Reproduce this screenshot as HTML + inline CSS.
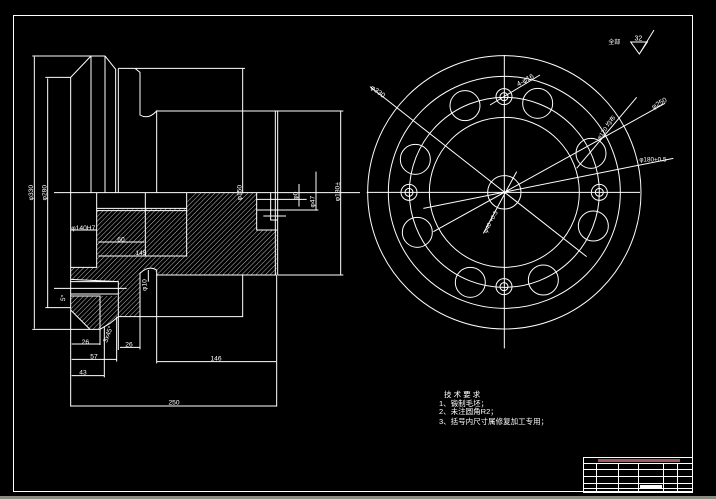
<!DOCTYPE html>
<html><head><meta charset="utf-8"><style>
html,body{margin:0;padding:0;background:#000;width:716px;height:499px;overflow:hidden}
svg{display:block}
text{font-family:"Liberation Sans","Noto Sans CJK SC",sans-serif;fill:#fff}
</style></head><body>
<svg width="716" height="499" viewBox="0 0 716 499" xmlns="http://www.w3.org/2000/svg">
<defs>
<pattern id="h" patternUnits="userSpaceOnUse" width="10" height="10" patternTransform="rotate(45)">
<line x1="0" y1="0" x2="0" y2="10" stroke="#fff" stroke-width="2.2"/>
</pattern>
</defs>
<rect x="0" y="496" width="716" height="3" fill="#8a8a80"/>
<rect x="13.5" y="15.5" width="679" height="476" fill="none" stroke="#fff" stroke-width="1"/>

<!-- Section view, zoom coords -->
<g transform="translate(0,40) scale(0.33333)" stroke="#fff" stroke-width="3" fill="none">
<path fill="url(#h)" stroke="none" d="M290,510 L560,505 L560,490 L575,458 L770,458 L770,570 L830,570 L830,705 L470,705 L465,688 L445,682 L425,690 L420,700 L420,830 L355,830 L355,725 L212,718 L212,682 L290,682 Z"/>
<path fill="url(#h)" stroke="none" d="M212,768 L300,768 L300,868 L270,868 L212,810 Z"/>
<path fill="url(#h)" stroke="none" d="M300,768 L355,768 L355,830 L330,850 L300,868 Z"/>
<!-- upper outer profile -->
<path d="M97,48 L315,48 M273,48 L212,112 L136,112 M212,112 L212,1100 M273,48 L273,458 M315,48 L315,458 M315,48 L347,88 L347,458 M355,85 L355,458 M355,85 L735,85 M405,85 L420,97 L420,225 Q445,240 470,213 L470,458 M470,213 L1030,213 M728,85 L728,458 M826,213 L826,705 M833,213 L833,705"/>
<path d="M162,458 L1080,458"/>
<!-- section inner lines -->
<path d="M290,458 L290,682 L212,682 M290,505 L560,505 M290,512 L560,512 M436,458 L436,650 M560,458 L560,650 M212,570 L290,570 M770,458 L770,570 L830,570 M812,458 L812,540 L832,540 M770,478 L920,478 M770,510 L955,510 M790,528 L858,528"/>
<path d="M212,718 L355,725 M212,725 L355,725 L355,830 L420,830 L420,700 Q445,675 470,690 L470,705 L830,705 M212,762 L355,762 M212,768 L300,768 L300,868 L270,868 L212,810 M162,745 L380,745 M97,868 L300,868 M136,803 L212,803 M728,705 L728,830 L410,830 M300,868 L330,850 L355,830"/>
<!-- dims -->
<path d="M103,50 L103,866 M143,115 L143,803 M1022,213 L1022,705 M833,705 L1030,705 M897,432 L897,500 M948,395 L948,512"/>
<path d="M295,606 L433,606 M295,648 L560,648"/>
<path d="M215,912 L300,912 M215,958 L350,958 M215,1007 L313,1007 M360,922 L420,922 M470,965 L828,965 M212,1098 L830,1098"/>
<path d="M300,868 L300,915 M313,860 L313,1012 M350,830 L350,965 M355,830 L355,930 M420,830 L420,928 M470,705 L470,970 M830,705 L830,1100"/>
<path d="M445,690 L445,725"/>
<g stroke="none" font-size="20">
<text x="256" y="912" text-anchor="middle">26</text>
<text x="282" y="956" text-anchor="middle">57</text>
<text x="249" y="1003" text-anchor="middle">43</text>
<text x="387" y="920" text-anchor="middle">26</text>
<text x="648" y="962" text-anchor="middle">146</text>
<text x="522" y="1094" text-anchor="middle">250</text>
<text x="363" y="605" text-anchor="middle">60</text>
<text x="423" y="645" text-anchor="middle">145</text>
<text x="250" y="570" text-anchor="middle">φ140H7</text>
<text transform="translate(99,458) rotate(-90)" text-anchor="middle">φ330</text>
<text transform="translate(139,458) rotate(-90)" text-anchor="middle">φ280</text>
<text transform="translate(1018,455) rotate(-90)" text-anchor="middle">φ180±</text>
<text transform="translate(724,458) rotate(-90)" text-anchor="middle">φ150</text>
<text transform="translate(893,467) rotate(-90)" text-anchor="middle">φ0</text>
<text transform="translate(944,485) rotate(-90)" text-anchor="middle">φ47</text>
<text transform="translate(440,735) rotate(-90)" text-anchor="middle">φ10</text>
<text transform="translate(330,885) rotate(-70)" text-anchor="middle">3x45°</text>
<text transform="translate(196,775) rotate(-80)" text-anchor="middle">5°</text>
</g>
</g>

<!-- Circle view, zoom coords -->
<g transform="translate(360,20) scale(0.33333)" stroke="#fff" stroke-width="3" fill="none">
<circle cx="433" cy="517" r="410"/>
<circle cx="433" cy="517" r="348"/>
<circle cx="433" cy="517" r="285"/>
<circle cx="433" cy="517" r="225"/>
<circle cx="433" cy="517" r="50"/>
<circle cx="315" cy="257" r="45"/><circle cx="533" cy="250" r="45"/>
<circle cx="166" cy="418" r="45"/><circle cx="693" cy="400" r="45"/>
<circle cx="172" cy="637" r="45"/><circle cx="700" cy="618" r="45"/>
<circle cx="331" cy="787" r="45"/><circle cx="550" cy="780" r="45"/>
<circle cx="432" cy="230" r="24"/><circle cx="432" cy="230" r="12"/>
<circle cx="147" cy="517" r="24"/><circle cx="147" cy="517" r="12"/>
<circle cx="718" cy="517" r="24"/><circle cx="718" cy="517" r="12"/>
<circle cx="432" cy="800" r="24"/><circle cx="432" cy="800" r="12"/>
<path d="M20,517 L840,517 M433,105 L433,985 M30,200 L680,710 M220,635 L915,250 M190,565 L940,415 M540,165 L390,255 M830,232 L650,445 M370,640 L470,455"/>
<path d="M812,66 L862,66 L838,102 Z M838,102 L882,30"/>
<g stroke="none" font-size="21">
<text x="745" y="72" font-size="18">全部</text>
<text x="835" y="62" text-anchor="middle">32</text>
<text transform="translate(30,205) rotate(37)">φ330</text>
<text transform="translate(475,200) rotate(-30)">4-φ16</text>
<text transform="translate(880,268) rotate(-30)">φ250</text>
<text x="838" y="425" font-size="19">φ180+0.5</text>
<text transform="translate(720,360) rotate(-55)" font-size="18">φ120 均布</text>
<text transform="translate(380,640) rotate(-62)" font-size="18">φ40 +0.5</text>
</g>
</g>

<!-- tech requirements -->
<g font-size="7.5">
<text x="444" y="397">技 术 要 求</text>
<text x="439" y="406">1、锻制毛坯；</text>
<text x="439" y="414">2、未注圆角R2；</text>
<text x="439" y="424">3、括号内尺寸属修复加工专用；</text>
</g>

<!-- title block -->
<g stroke="#fff" fill="none" stroke-width="1">
<rect x="583.5" y="457.5" width="109" height="35"/>
<line x1="583" y1="463.5" x2="693" y2="463.5"/>
<line x1="583" y1="469.5" x2="693" y2="469.5"/>
<line x1="583" y1="476.5" x2="693" y2="476.5"/>
<line x1="583" y1="483.5" x2="693" y2="483.5"/>
<line x1="583" y1="488.5" x2="693" y2="488.5"/>
<line x1="596.5" y1="463" x2="596.5" y2="492"/>
<line x1="618.5" y1="463" x2="618.5" y2="492"/>
<line x1="638.5" y1="463" x2="638.5" y2="492"/>
<line x1="663.5" y1="463" x2="663.5" y2="492"/>
<line x1="677.5" y1="463" x2="677.5" y2="492"/>
</g>
<rect x="598" y="459" width="82" height="3" fill="#a05a5a"/>
<rect x="640" y="485" width="22" height="3" fill="#fff"/>
</svg>
</body></html>
